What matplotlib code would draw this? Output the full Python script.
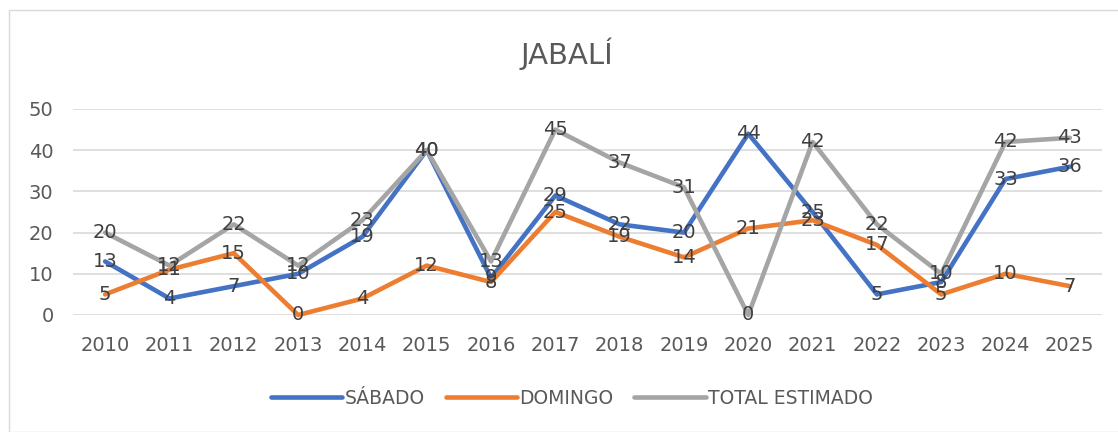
import matplotlib
matplotlib.use("Agg")
import matplotlib.pyplot as plt
from matplotlib.patches import Rectangle

years = ["2010", "2011", "2012", "2013", "2014", "2015", "2016", "2017",
         "2018", "2019", "2020", "2021", "2022", "2023", "2024", "2025"]
sabado = [13, 4, 7, 10, 19, 40, 9, 29, 22, 20, 44, 25, 5, 8, 33, 36]
domingo = [5, 11, 15, 0, 4, 12, 8, 25, 19, 14, 21, 23, 17, 5, 10, 7]
total = [20, 12, 22, 12, 23, 40, 13, 45, 37, 31, 0, 42, 22, 10, 42, 43]
series_names = ["SÁBADO", "DOMINGO", "TOTAL ESTIMADO"]
colors = ["#4472C4", "#ED7D31", "#A5A5A5"]
yticks = [0, 10, 20, 30, 40, 50]

W, H = 1118, 432
fig = plt.figure(figsize=(W / 100, H / 100), dpi=100)
fig.patch.set_facecolor("white")

# chart border
fig.patches.append(Rectangle((9 / W, 0), 1.2, (H - 10) / H, transform=fig.transFigure,
                             fill=False, edgecolor="#D9D9D9", linewidth=1.0))

ax = fig.add_axes([73 / W, (H - 315) / H, 1029 / W, 206 / H])
x = list(range(len(years)))
lines = []
for vals, name, c in zip([sabado, domingo, total], series_names, colors):
    ln, = ax.plot(x, vals, color=c, linewidth=3.3, solid_capstyle="round",
                  solid_joinstyle="round", label=name, clip_on=False, zorder=3)
    lines.append(ln)

for vals in [sabado, domingo, total]:
    for xi, v in zip(x, vals):
        ax.text(xi, v, str(v), ha="center", va="center", fontsize=14,
                color="#404040", zorder=5, clip_on=False)

ax.set_xlim(-0.5, len(years) - 0.5)
ax.set_ylim(0, 50)
ax.set_yticks(yticks)
ax.set_xticks(x)
ax.set_xticklabels(years)
ax.grid(axis="y", color="#D9D9D9", linewidth=1.2)
ax.set_axisbelow(True)
for s in ax.spines.values():
    s.set_visible(False)
ax.tick_params(axis="y", length=0, pad=14, labelsize=14, labelcolor="#595959")
ax.tick_params(axis="x", length=0, pad=15, labelsize=14, labelcolor="#595959")

fig.text(567 / W, 1 - 54 / H, "JABALÍ", ha="center", va="center",
         fontsize=21, color="#595959")

fig.legend(handles=lines, loc="center", bbox_to_anchor=(572 / W, 1 - 398 / H),
           ncol=3, frameon=False, fontsize=13.5, labelcolor="#595959",
           handlelength=3.8, handletextpad=0.15, columnspacing=1.1)

fig.savefig("out.png", dpi=100)
